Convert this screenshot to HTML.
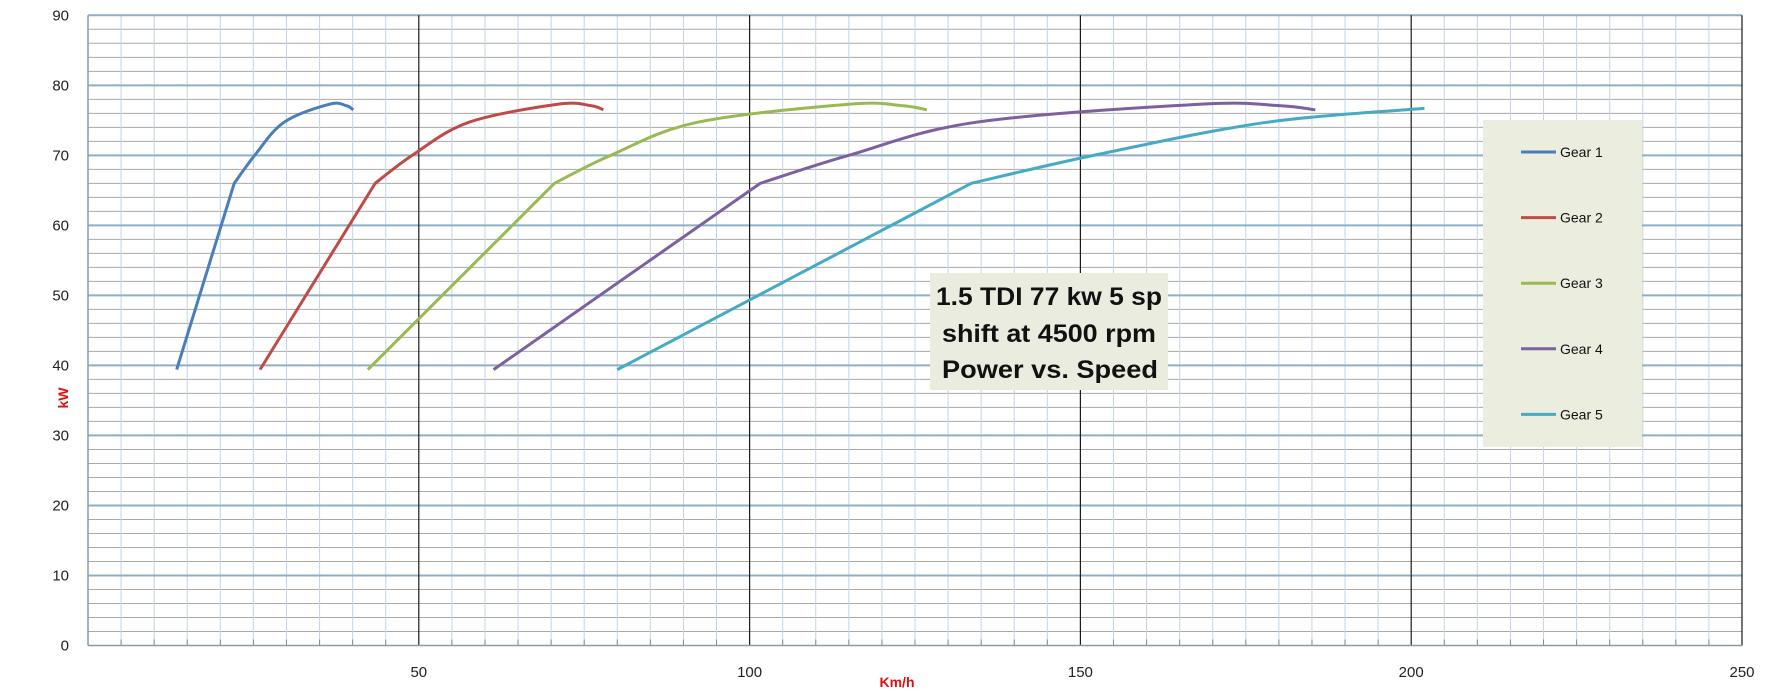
<!DOCTYPE html>
<html><head><meta charset="utf-8"><style>
html,body{margin:0;padding:0;background:#fff;}
svg{display:block;font-family:"Liberation Sans",sans-serif;}
</style></head><body>
<svg id="chart" width="1792" height="700" viewBox="0 0 1792 700">
<g id="grid"></g>
<g id="axes"></g>
<g id="series"></g>
<g id="legend"></g>
<g>
<rect x="930" y="273" width="238" height="117" fill="#eaecdf"/>
<text x="1049" y="305" text-anchor="middle" font-weight="bold" font-size="25" textLength="226" lengthAdjust="spacingAndGlyphs" fill="#111">1.5 TDI 77 kw 5 sp</text>
<text x="1049" y="342" text-anchor="middle" font-weight="bold" font-size="25" textLength="214" lengthAdjust="spacingAndGlyphs" fill="#111">shift at 4500 rpm</text>
<text x="1050" y="378" text-anchor="middle" font-weight="bold" font-size="25" textLength="216" lengthAdjust="spacingAndGlyphs" fill="#111">Power  vs. Speed</text>
</g>
</svg>
<script>
const seriesNames = ["Gear 1","Gear 2","Gear 3","Gear 4","Gear 5"];
const seriesColors = ["#4a7ebb","#be4b48","#98b954","#7d60a0","#46aac5"];
const gear1Speed = [13.4, 22.1, 25.2, 29.6, 36.5, 39.0, 40.1];
const gear1Kw = [39.4, 66, 70, 74.7, 77.3, 77.1, 76.5];
const gear2Speed = [26.0, 43.4, 49.0, 57.5, 71.0, 76.0, 77.9];
const gear2Kw = [39.4, 66, 70, 74.7, 77.3, 77.1, 76.5];
const gear3Speed = [42.3, 70.5, 79.0, 92.0, 115.0, 123.0, 126.8];
const gear3Kw = [39.4, 66, 70, 74.7, 77.3, 77.1, 76.5];
const gear4Speed = [61.3, 101.6, 115.0, 134.0, 168.0, 180.0, 185.5];
const gear4Kw = [39.4, 66, 70, 74.7, 77.3, 77.1, 76.5];
const gear5Speed = [80.0, 133.5, 152.0, 178.0, 202.0];
const gear5Kw = [39.4, 66, 70, 74.7, 76.7];
const xTicks = [50, 100, 150, 200, 250];
const yTicks = [0, 10, 20, 30, 40, 50, 60, 70, 80, 90];

const NS = "http://www.w3.org/2000/svg";
const X0 = 88, X1 = 1742, Y0 = 645.5, Y1 = 15.3;
const xMax = 250, yMax = 90;
function sx(v){ return X0 + v / xMax * (X1 - X0); }
function sy(v){ return Y0 - v / yMax * (Y0 - Y1); }
function mk(tag, attrs, parent){
  const e = document.createElementNS(NS, tag);
  for (const k in attrs) e.setAttribute(k, attrs[k]);
  parent.appendChild(e);
  return e;
}
const grid = document.getElementById("grid");
const axes = document.getElementById("axes");
// minor horizontal every 2
for (let v = 2; v < yMax; v += 2) {
  if (v % 10 === 0) continue;
  const l = mk("line", {x1:X0, x2:X1, y1:sy(v), y2:sy(v), stroke:"#a9a9a9", "stroke-width":1}, grid);
  
  
}
// minor vertical every 5
for (let v = 5; v < xMax; v += 5) {
  if (v % 50 === 0) continue;
  const l = mk("line", {x1:sx(v), x2:sx(v), y1:Y1, y2:Y0, stroke:"#c3d4e6", "stroke-width":1}, grid);
  
  
  const t = mk("line", {x1:sx(v), x2:sx(v), y1:Y0, y2:Y0-6, stroke:"#888", "stroke-width":1}, grid);
  
  
}
// major horizontal
yTicks.forEach(v => {
  if (v === 0) return;
  const l = mk("line", {x1:X0, x2:X1, y1:sy(v), y2:sy(v), stroke:"#8eafc4", "stroke-width":2}, grid);
  
  
});
// major vertical
xTicks.forEach(v => {
  const l = mk("line", {x1:sx(v), x2:sx(v), y1:Y1, y2:Y0, stroke:"#1a1a1a", "stroke-width":1.2}, grid);
  
  
});
// axes
const ya = mk("line", {x1:X0, x2:X0, y1:Y1, y2:Y0, stroke:"#8a9aa8", "stroke-width":1.5}, axes);


const xa = mk("line", {x1:X0, x2:X1, y1:Y0, y2:Y0, stroke:"#8a9aa8", "stroke-width":1.5}, axes);


yTicks.forEach(v => {
  const t = mk("text", {x:69, y:sy(v)+5, "text-anchor":"end", "font-size":15, fill:"#222"}, axes);
  t.textContent = v;
  
  
});
xTicks.forEach(v => {
  const t = mk("text", {x:sx(v), y:677, "text-anchor":"middle", "font-size":15, fill:"#222"}, axes);
  t.textContent = v;
  
  
});
const xt = mk("text", {x:897, y:687, "text-anchor":"middle", "font-size":14, "font-weight":"bold", fill:"#e01010"}, axes);
xt.textContent = "Km/h";


const yt = mk("text", {x:0, y:0, "text-anchor":"middle", "font-size":14, "font-weight":"bold", fill:"#e01010", transform:"translate(68,398) rotate(-90)"}, axes);
yt.textContent = "kW";


// series
const sp = [gear1Speed, gear2Speed, gear3Speed, gear4Speed, gear5Speed];
const kw = [gear1Kw, gear2Kw, gear3Kw, gear4Kw, gear5Kw];
const sg = document.getElementById("series");
function smoothPath(pts){
  let d = "M" + pts[0][0] + "," + pts[0][1];
  d += " L" + pts[1][0] + "," + pts[1][1];
  for (let i = 1; i < pts.length - 1; i++) {
    const p0 = pts[i-1], p1 = pts[i], p2 = pts[i+1], p3 = pts[i+2] || p2;
    const a = i === 1 ? p1 : p0;
    const c1 = [p1[0] + (p2[0]-a[0])/6, p1[1] + (p2[1]-a[1])/6];
    const c2 = [p2[0] - (p3[0]-p1[0])/6, p2[1] - (p3[1]-p1[1])/6];
    d += " C" + c1[0] + "," + c1[1] + " " + c2[0] + "," + c2[1] + " " + p2[0] + "," + p2[1];
  }
  return d;
}
sp.forEach((arr, i) => {
  const pts = arr.map((s, j) => [sx(s), sy(kw[i][j])]);
  const p = mk("path", {d:smoothPath(pts), fill:"none", stroke:seriesColors[i], "stroke-width":3, "stroke-linejoin":"round"}, sg);
  
  
});
// legend
const lg = document.getElementById("legend");
const lb = mk("rect", {x:1483, y:120, width:159, height:327, fill:"#ebeedf"}, lg);


seriesNames.forEach((n, i) => {
  const y = 152 + i * 65.6;
  const g = mk("g", {}, lg);
  
  
  mk("line", {x1:1521, x2:1556, y1:y, y2:y, stroke:seriesColors[i], "stroke-width":3}, g);
  const t = mk("text", {x:1560, y:y+5, "font-size":14, fill:"#111"}, g);
  t.textContent = n;
});
</script>
</body></html>
